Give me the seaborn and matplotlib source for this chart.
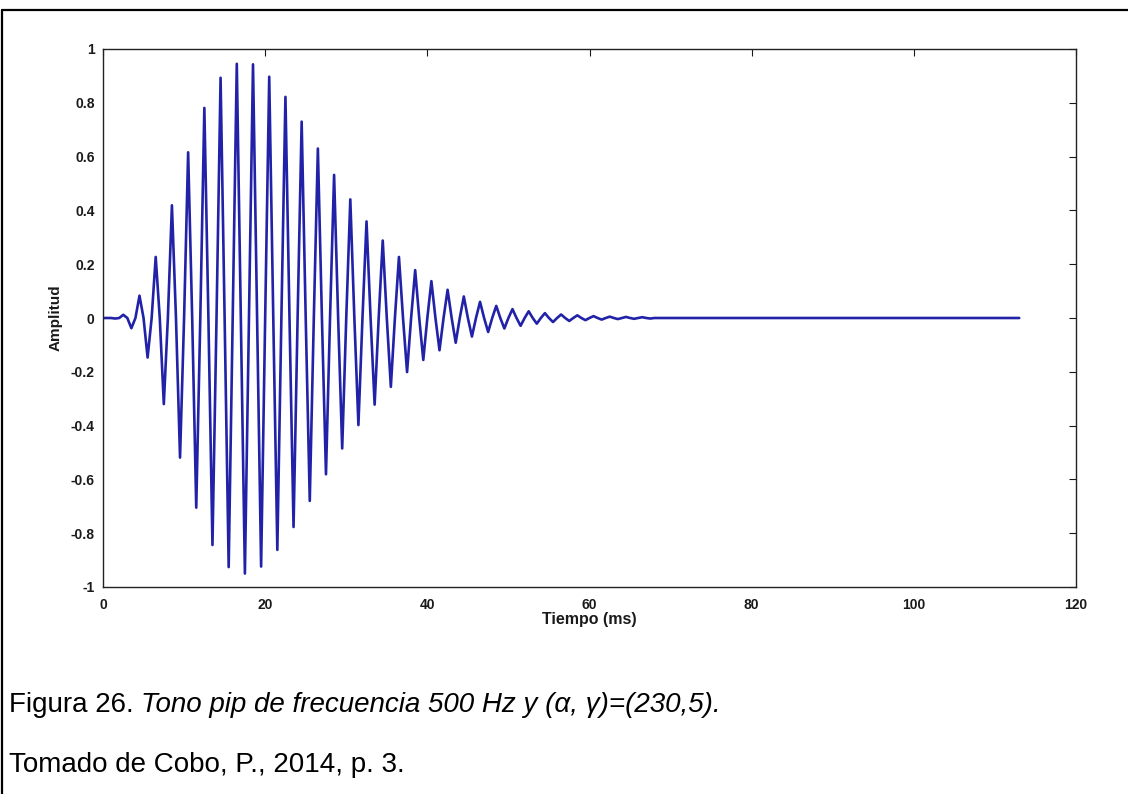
import matplotlib
matplotlib.use("Agg")
import matplotlib.pyplot as plt
import seaborn as sns
import pandas as pd
from matplotlib.lines import Line2D

# máximos y mínimos de la señal (tiempo en ms)
peak_t = [1.5, 2.5, 3.5, 4.5, 5.5, 6.5, 7.5, 8.5, 9.5, 10.5,
          11.5, 12.5, 13.5, 14.5, 15.5, 16.5, 17.5, 18.5, 19.5, 20.5,
          21.5, 22.5, 23.5, 24.5, 25.5, 26.5, 27.5, 28.5, 29.5, 30.5,
          31.5, 32.5, 33.5, 34.5, 35.5, 36.5, 37.5, 38.5, 39.5, 40.5,
          41.5, 42.5, 43.5, 44.5, 45.5, 46.5, 47.5, 48.5, 49.5, 50.5,
          51.5, 52.5, 53.5, 54.5, 55.5, 56.5, 57.5, 58.5, 59.5, 60.5,
          61.5, 62.5, 63.5, 64.5, 65.5, 66.5, 67.5]
peak_amp = [-0.002, 0.012, -0.038, 0.083, -0.147, 0.227, -0.320, 0.419, -0.519, 0.616,
            -0.705, 0.781, -0.844, 0.893, -0.926, 0.945, -0.950, 0.943, -0.924, 0.897,
            -0.862, 0.822, -0.777, 0.730, -0.680, 0.630, -0.581, 0.532, -0.485, 0.441,
            -0.398, 0.359, -0.322, 0.288, -0.256, 0.227, -0.201, 0.178, -0.156, 0.137,
            -0.120, 0.105, -0.092, 0.080, -0.069, 0.060, -0.052, 0.045, -0.039, 0.033,
            -0.029, 0.025, -0.021, 0.018, -0.015, 0.013, -0.011, 0.010, -0.008, 0.007,
            -0.006, 0.005, -0.004, 0.004, -0.003, 0.003, -0.002]
# cruces por cero (y el final plano de la señal)
zero_t = [0, 1, 2, 3, 4, 5, 6, 7, 8, 9, 10, 11, 12, 13, 14, 15, 16, 17, 18, 19,
          20, 21, 22, 23, 24, 25, 26, 27, 28, 29, 30, 31, 32, 33, 34, 35, 36, 37, 38, 39,
          40, 41, 42, 43, 44, 45, 46, 47, 48, 49, 50, 51, 52, 53, 54, 55, 56, 57, 58, 59,
          60, 61, 62, 63, 64, 65, 66, 67, 68, 113]

x_ticks = [0, 20, 40, 60, 80, 100, 120]
y_ticks = [-1, -0.8, -0.6, -0.4, -0.2, 0, 0.2, 0.4, 0.6, 0.8, 1]
y_labels = ['-1', '-0.8', '-0.6', '-0.4', '-0.2', '0', '0.2', '0.4', '0.6', '0.8', '1']

df = pd.DataFrame({'t': peak_t + zero_t, 'amp': peak_amp + [0.0] * len(zero_t)})
df = df.sort_values('t')

sns.set_style('white')
plt.rcParams['font.family'] = ['Liberation Sans', 'DejaVu Sans']

W, H = 1128, 794
fig = plt.figure(figsize=(W / 100, H / 100), dpi=100)
ax = fig.add_axes([103 / W, 1 - 587 / H, 973 / W, 538 / H])

sns.lineplot(data=df, x='t', y='amp', estimator=None, sort=False,
             color='#2222a8', linewidth=1.9, ax=ax)
for ln in ax.get_lines():
    ln.set_solid_joinstyle('round')

ax.set_xlim(0, 120)
ax.set_ylim(-1, 1)
ax.set_xticks(x_ticks)
ax.set_xticklabels([str(v) for v in x_ticks])
ax.set_yticks(y_ticks)
ax.set_yticklabels(y_labels)
ax.tick_params(direction='in', top=True, right=True, length=5, width=0.8,
               labelsize=10, colors='#1a1a1a')
ax.tick_params(axis='x', pad=8)
ax.tick_params(axis='y', pad=6)
for lab in ax.get_xticklabels() + ax.get_yticklabels():
    lab.set_fontweight('bold')
for sp in ax.spines.values():
    sp.set_color('#222222')
    sp.set_linewidth(1.0)

ax.set_xlabel('Tiempo (ms)', fontsize=11.5, fontweight='bold', labelpad=0, color='#1a1a1a')
ax.set_ylabel('Amplitud', fontsize=11, fontweight='bold', labelpad=6, color='#1a1a1a')

# marco exterior (parte superior e izquierda)
fig.add_artist(Line2D([2 / W, 2 / W], [0, 1 - 10 / H], color='black', lw=1.6))
fig.add_artist(Line2D([2 / W, 1], [1 - 10 / H, 1 - 10 / H], color='black', lw=1.6))

# pie de figura
t1 = fig.text(9 / W, 1 - 705 / H, 'Figura 26.', fontsize=20, va='center', color='black')
renderer = fig.canvas.get_renderer()
bb = t1.get_window_extent(renderer)
fig.text((bb.x1 + 7) / W, 1 - 705 / H,
         'Tono pip de frecuencia 500 Hz y (α, γ)=(230,5).',
         fontsize=20, style='italic', va='center', color='black')
fig.text(9 / W, 1 - 765 / H, 'Tomado de Cobo, P., 2014, p. 3.', fontsize=20,
         va='center', color='black')

fig.savefig('out.png', dpi=100)
